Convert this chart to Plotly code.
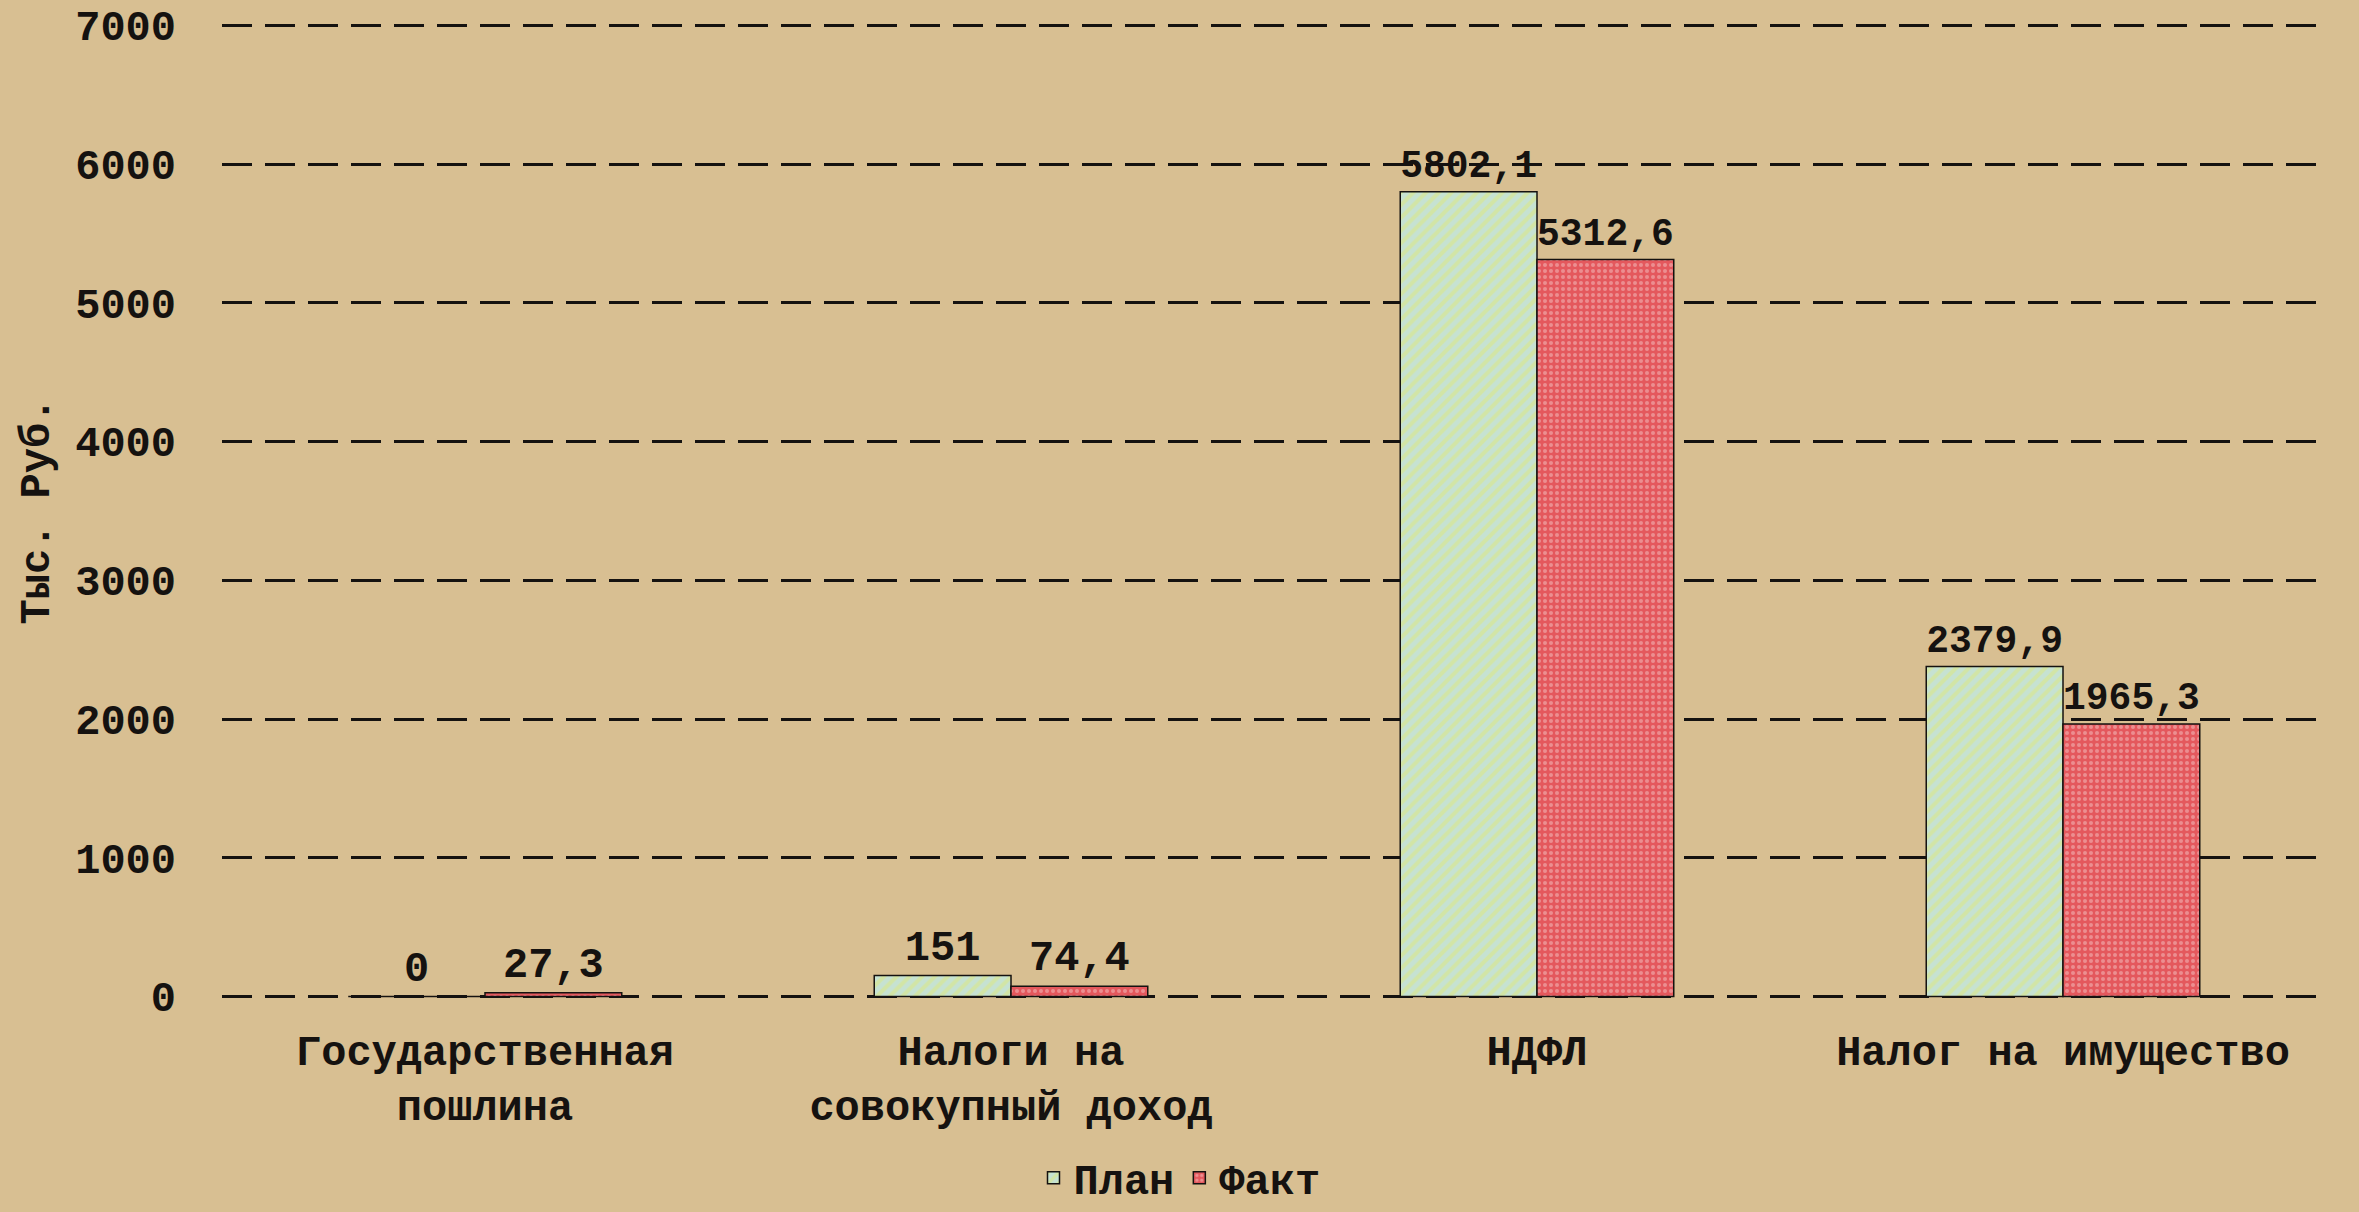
import plotly.graph_objects as go

categories = ["Государственная<br>пошлина", "Налоги на<br>совокупный доход", "НДФЛ", "Налог на имущество"]
plan_values = [0, 151, 5802.1, 2379.9]
fact_values = [27.3, 74.4, 5312.6, 1965.3]
series_names = ["План", "Факт"]
y_ticks = [0, 1000, 2000, 3000, 4000, 5000, 6000, 7000]

FONT = "Liberation Mono"
INK = "#151210"


def fmt(v):
    s = f"{v:g}"
    return s.replace(".", ",")


fig = go.Figure()
fig.add_trace(go.Bar(
    name=series_names[0], x=categories, y=plan_values,
    text=[fmt(v) for v in plan_values], textposition="outside",
    cliponaxis=False,
    textfont=dict(family=FONT, size=42, color=INK, weight="bold"),
    marker=dict(color="#cfe5c8",
                line=dict(color=INK, width=1.5),
                pattern=dict(shape="/", bgcolor="#c6e2d2", fgcolor="#dde77a",
                             size=9, solidity=0.45, fillmode="overlay")),
))
fig.add_trace(go.Bar(
    name=series_names[1], x=categories, y=fact_values,
    text=[fmt(v) for v in fact_values], textposition="outside",
    cliponaxis=False,
    textfont=dict(family=FONT, size=42, color=INK, weight="bold"),
    marker=dict(color="#e8676b",
                line=dict(color=INK, width=1.5),
                pattern=dict(shape=".", bgcolor="#e4585d", fgcolor="#f4c3c4",
                             size=6, solidity=0.35, fillmode="overlay")),
))

fig.update_layout(
    width=2359, height=1212,
    paper_bgcolor="#d8bf92",
    plot_bgcolor="rgba(0,0,0,0)",
    barmode="group", bargap=0.48, bargroupgap=0,
    margin=dict(l=222, r=33, t=22, b=212),
    font=dict(family=FONT, size=42, color=INK),
    showlegend=True,
    legend=dict(orientation="h", xref="container", yref="container",
                x=0.5, xanchor="center", y=0.028, yanchor="middle",
                font=dict(family=FONT, size=42, color=INK, weight="bold"),
                itemwidth=30, traceorder="normal"),
    xaxis=dict(showgrid=False, showline=False, ticks="", automargin=False,
               tickfont=dict(family=FONT, size=42, color=INK, weight="bold"),
               ticklabelstandoff=22),
    yaxis=dict(range=[-25, 7025], tickvals=y_ticks, showline=False, zeroline=False,
               showgrid=True, gridcolor=INK, gridwidth=3, griddash="30px,13px",
               ticks="", ticklabelstandoff=45, automargin=False,
               tickfont=dict(family=FONT, size=42, color=INK, weight="bold"),
               title=dict(text="Тыс. Руб.", standoff=12,
                          font=dict(family=FONT, size=42, color=INK, weight="bold"))),
)

fig.write_html(
    "out.html",
    config={"displayModeBar": False},
    post_script="document.body.style.margin='0';document.body.style.overflow='hidden';",
)
